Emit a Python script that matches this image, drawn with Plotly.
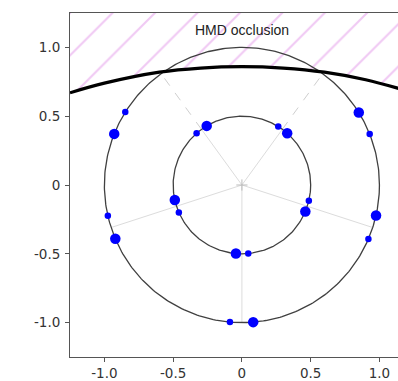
import numpy as np
import plotly.graph_objects as go

# ---- data ----
ring_radii = [0.5, 1.0]
spoke_angles = [-90, -18, 54, 126, 198]
spoke_dashed = [False, False, True, True, False]

big_angles = [158.2, 31.8, 203.0, -12.8, -85.3, 120.8, 48.8, 192.6, -22.7, -95.0]
big_radii = [1.0, 1.0, 1.0, 1.0, 1.0, 0.5, 0.5, 0.5, 0.5, 0.5]
small_angles = [148.0, 21.7, 192.9, -23.1, -95.0, 131.2, 58.1, 203.5, -13.2, -84.7]
small_radii = [1.0, 1.0, 1.0, 1.0, 1.0, 0.5, 0.5, 0.5, 0.5, 0.5]

occl_x = [-1.25, -1.0, -0.6, -0.3, 0.0, 0.3, 0.6, 0.9, 1.25]
occl_y = [0.67, 0.74, 0.82, 0.85, 0.86, 0.85, 0.82, 0.765, 0.67]

tick_vals = [-1.0, -0.5, 0.0, 0.5, 1.0]
tick_text = ["-1.0", "-0.5", "0", "0.5", "1.0"]

x_range = [-1.25, 1.135]
y_range = [-1.25, 1.25]


def polar(angles, radii):
    a = np.deg2rad(np.asarray(angles, dtype=float))
    r = np.asarray(radii, dtype=float)
    return r * np.cos(a), r * np.sin(a)


fig = go.Figure()

# hatch region above occlusion curve
fig.add_trace(go.Scatter(x=occl_x, y=[1.3] * len(occl_x), mode="lines",
                         line=dict(width=0), hoverinfo="skip", showlegend=False))
fig.add_trace(go.Scatter(x=occl_x, y=occl_y, mode="lines", line_shape="spline",
                         line=dict(width=0), fill="tonexty",
                         fillcolor="rgba(0,0,0,0)",
                         fillpattern=dict(shape="/", fgcolor="rgba(215,110,225,0.75)",
                                          bgcolor="rgba(255,255,255,0)", size=30,
                                          solidity=0.07),
                         hoverinfo="skip", showlegend=False))

# spokes
for ang, dashed in zip(spoke_angles, spoke_dashed):
    if dashed:
        xi, yi = polar([ang, ang], [0, ring_radii[0]])
        fig.add_trace(go.Scatter(x=xi, y=yi, mode="lines",
                                 line=dict(color="#dcdcdc", width=1), showlegend=False))
        xo, yo = polar([ang, ang], [ring_radii[0], ring_radii[1]])
        fig.add_trace(go.Scatter(x=xo, y=yo, mode="lines",
                                 line=dict(color="#cfcfcf", width=1, dash="dash"),
                                 showlegend=False))
    else:
        xs, ys = polar([ang, ang], [0, ring_radii[1]])
        fig.add_trace(go.Scatter(x=xs, y=ys, mode="lines",
                                 line=dict(color="#dcdcdc", width=1), showlegend=False))

# rings
theta = np.linspace(0, 360, 361)
for r in ring_radii:
    cx, cy = polar(theta, [r] * len(theta))
    fig.add_trace(go.Scatter(x=cx, y=cy, mode="lines",
                             line=dict(color="#404040", width=1.3), showlegend=False))

# center marker
fig.add_trace(go.Scatter(x=[0], y=[0], mode="markers",
                         marker=dict(symbol="cross-thin", size=8,
                                     line=dict(color="#bbbbbb", width=1)),
                         showlegend=False))

# occlusion curve
fig.add_trace(go.Scatter(x=occl_x, y=occl_y, mode="lines", line_shape="spline",
                         line=dict(color="black", width=3.2), showlegend=False))

# points
bx, by = polar(big_angles, big_radii)
sx, sy = polar(small_angles, small_radii)
fig.add_trace(go.Scatter(x=bx, y=by, mode="markers",
                         marker=dict(color="#0000ff", size=10.5, line=dict(width=0)),
                         showlegend=False))
fig.add_trace(go.Scatter(x=sx, y=sy, mode="markers",
                         marker=dict(color="#0000ff", size=6.5, line=dict(width=0)),
                         showlegend=False))

fig.add_annotation(x=0, y=1.13, text="HMD occlusion", showarrow=False,
                   font=dict(family="Liberation Sans, Arial", size=14, color="#222222"))

axis_common = dict(showgrid=False, zeroline=False, ticks="outside", ticklen=4,
                   tickcolor="#555555", linecolor="#555555", linewidth=1,
                   showline=True, tickvals=tick_vals, ticktext=tick_text,
                   tickfont=dict(family="DejaVu Sans", size=13.5, color="#333333"))

fig.update_layout(
    width=398, height=381,
    margin=dict(l=70, r=0, t=13, b=24),
    plot_bgcolor="white", paper_bgcolor="white",
    xaxis=dict(range=x_range, mirror=True, **axis_common),
    yaxis=dict(range=y_range, mirror=False, ticklabelstandoff=2, **axis_common),
)

fig.write_html("out.html", config={"displayModeBar": False},
               post_script="document.body.style.margin='0';document.body.style.overflow='hidden';")
